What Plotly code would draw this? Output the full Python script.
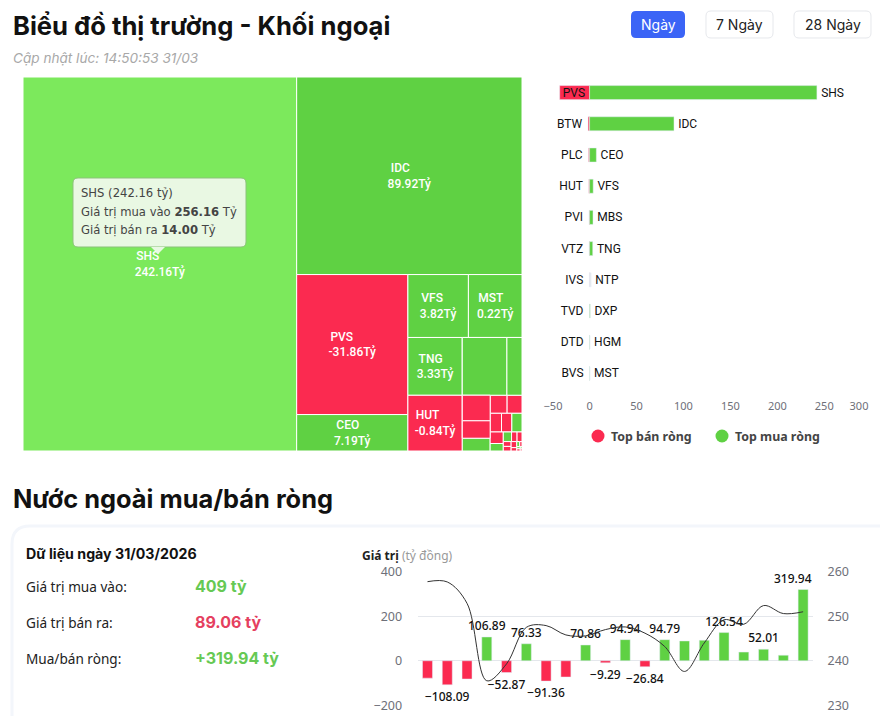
import plotly.graph_objects as go

W, H = 880, 716

# Treemap (khoi ngoai): size = buy + sell, label only on the bigger cells
# "NHOM1"/"NHOM2" only keep their two cells together (MBS+NTP in a row, BTW+PLC in a column)
tm_names = ["SHS", "IDC", "PVS", "CEO", "VFS", "MST", "TNG", "HUT", "NHOM1", "MBS", "NTP",
            "NHOM2", "BTW", "PLC", "DXP", "PVI", "VTZ", "IVS", "TVD", "HGM", "DTD", "BVS",
            "VGS", "TIG", "PLX", "NVB", "C69", "VC3", "HHC", "LAS", "BCC", "MBG",
            "TNG1", "APS", "SD5"]
tm_parents = ["", "", "", "", "", "", "", "", "", "NHOM1", "NHOM1",
              "", "NHOM2", "NHOM2", "", "", "", "", "", "", "", "",
              "", "", "", "", "", "", "", "", "", "",
              "", "", ""]
tm_sizes = [270.16, 117.5, 41.1, 10.7, 10.05, 8.9, 8.3, 8.0, 0, 6.8, 2.3,
            0, 1.88, 1.28, 0.94, 0.81, 0.71, 0.56, 0.51, 0.50, 0.40, 0.26,
            0.21, 0.14, 0.125, 0.10, 0.095, 0.09, 0.05, 0.04, 0.03, 0.02,
            0.02, 0.01, 0.01]
tm_signs = [1, 1, -1, 1, 1, 1, 1, -1, 1, 1, 1,
            -1, -1, -1, 1, -1, -1, -1, -1, 1, -1, 1,
            1, -1, -1, -1, -1, -1, -1, 1, -1, 1,
            -1, 1, -1]
tm_labels = {"SHS": "242.16Tỷ", "IDC": "89.92Tỷ", "PVS": "-31.86Tỷ", "CEO": "7.19Tỷ",
             "VFS": "3.82Tỷ", "MST": "0.22Tỷ", "TNG": "3.33Tỷ", "HUT": "-0.84Tỷ"}
# nbsp after the ticker so both lines start at the same x
tm_pad = {"SHS": 8, "IDC": 6, "PVS": 7, "CEO": 3, "VFS": 4, "MST": 3, "TNG": 3, "HUT": 5}

# Top net sell / net buy bars
sell_names = ["PVS", "BTW", "PLC", "HUT", "PVI", "VTZ", "IVS", "TVD", "DTD", "BVS"]
sell_vals = [-31.86, -1.6, -1.1, -0.84, -0.6, -0.5, -0.3, -0.15, -0.1, -0.05]
buy_names = ["SHS", "IDC", "CEO", "VFS", "MBS", "TNG", "NTP", "DXP", "HGM", "MST"]
buy_vals = [242.16, 89.92, 7.19, 3.82, 3.6, 3.33, 1.6, 0.6, 0.3, 0.22]
rank = list(range(10))
bar_ticks = [-39, 0, 50, 100, 150, 200, 250, 287]
bar_tick_text = ["−50", "0", "50", "100", "150", "200", "250", "300"]

# Nuoc ngoai mua/ban rong
sessions = list(range(1, 21))
net_vals = [-78, -108.09, -82, 106.89, -52.87, 76.33, -91.36, -73, 70.86, -9.29,
            94.94, -26.84, 94.79, 89, 92, 126.54, 39, 52.01, 25, 319.94]
net_labelled = [0, 1, 0, 1, 1, 1, 1, 0, 1, 1, 1, 1, 1, 0, 0, 1, 0, 1, 0, 0]
index_vals = [257.76, 257.7, 252.9, 235.5, 239.3, 247.5, 247.9, 245.8, 245.6, 247,
              247.6, 246.2, 243.2, 237.6, 244, 249.2, 248.2, 252.4, 250.6, 251]

GREEN = "#5fd143"
GREEN_HL = "#7ce95c"
RED = "#fb2a50"


def fx(x):
    return x / W


def fy(y):
    return 1 - y / H


def rounded(x0, y0, x1, y1, r):
    # rounded box in page pixels -> paper coords path
    p = [("M", x0 + r, y0), ("L", x1 - r, y0), ("Q", x1, y0, x1, y0 + r), ("L", x1, y1 - r),
         ("Q", x1, y1, x1 - r, y1), ("L", x0 + r, y1), ("Q", x0, y1, x0, y1 - r),
         ("L", x0, y0 + r), ("Q", x0, y0, x0 + r, y0)]
    out = ""
    for seg in p:
        nums = seg[1:]
        pts = [f"{fx(nums[i]):.5f},{fy(nums[i + 1]):.5f}" for i in range(0, len(nums), 2)]
        out += seg[0] + " ".join(pts) + " "
    return out + "Z"


def label(x, y, text, size=14, color="#111", family="Inter", anchor="left", **kw):
    # annotations carry about 2px of padding on the left
    x = x - 2 if anchor == "left" else x
    fig.add_annotation(x=fx(x), y=fy(y), xref="paper", yref="paper", text=text, showarrow=False,
                       xanchor=anchor, yanchor="middle", align=anchor,
                       font=dict(size=size, color=color, family=family), **kw)


fig = go.Figure()

fig.add_trace(go.Treemap(
    labels=tm_names,
    parents=tm_parents,
    values=tm_sizes,
    text=[f"{n}{chr(160) * tm_pad[n]}<br>{tm_labels[n]}" if n in tm_labels else "" for n in tm_names],
    textinfo="text",
    textposition="middle center",
    textfont=dict(family="Roboto", size=12, color="white", weight=500),
    marker=dict(colors=[GREEN_HL if n == "SHS" else (GREEN if s > 0 else RED)
                        for n, s in zip(tm_names, tm_signs)],
                line=dict(color="white", width=1), pad=dict(t=0, l=0, r=0, b=0)),
    tiling=dict(packing="squarify", squarifyratio=1.28, pad=0),
    pathbar=dict(visible=False),
    sort=False,
    hoverinfo="skip",
    domain=dict(x=[fx(23), fx(522)], y=[fy(451), fy(77)]),
))

fig.add_trace(go.Bar(
    y=rank, x=sell_vals, orientation="h", xaxis="x", yaxis="y", width=0.45,
    text=[sell_names[0]] + [n + "\u00a0" for n in sell_names[1:]],
    marker=dict(color=RED), showlegend=False, cliponaxis=False, hoverinfo="skip",
    textposition=["inside"] + ["outside"] * 9, insidetextanchor="end",
    textfont=dict(family="Roboto", size=12, color="#111"), textangle=0,
))
fig.add_trace(go.Bar(
    y=rank, x=buy_vals, orientation="h", xaxis="x", yaxis="y", width=0.45,
    text=["\u200a" + n for n in buy_names],
    marker=dict(color=[GREEN] * 6 + ["#e6e9ee"] + [GREEN] * 3), showlegend=False,
    cliponaxis=False, hoverinfo="skip", textposition="outside",
    textfont=dict(family="Roboto", size=12, color="#111"), textangle=0,
))

fig.add_trace(go.Bar(
    x=sessions, y=net_vals, xaxis="x2", yaxis="y2", width=0.505, showlegend=False,
    marker=dict(color=[GREEN if v > 0 else RED for v in net_vals]),
    text=[f"{v:.2f}".replace("-", "−") if s else "" for v, s in zip(net_vals, net_labelled)],
    textposition="outside", cliponaxis=False, hoverinfo="skip", textangle=0,
    textfont=dict(family="Noto Sans", size=12, color="#111", weight=500),
))
fig.add_trace(go.Scatter(
    x=sessions, y=index_vals, xaxis="x2", yaxis="y3", mode="lines", showlegend=False,
    line=dict(color="#333", width=1, shape="spline", smoothing=1.0), hoverinfo="skip",
))

tick_font = dict(family="Noto Sans", size=11, color="#6e7079")
fig.update_layout(
    width=W, height=H, margin=dict(l=0, r=0, t=0, b=0, autoexpand=False),
    paper_bgcolor="white", plot_bgcolor="rgba(0,0,0,0)",
    barmode="overlay", uniformtext=dict(minsize=12, mode="show"), showlegend=False,
    xaxis=dict(domain=[fx(553), fx(859)], range=[-39, 287], anchor="y", tickvals=bar_ticks,
               ticktext=bar_tick_text, showgrid=False, zeroline=False, showline=False,
               ticks="outside", ticklen=7, tickcolor="rgba(0,0,0,0)", tickfont=tick_font),
    yaxis=dict(domain=[fy(389), fy(77)], range=[9.5, -0.5], anchor="x", visible=False),
    xaxis2=dict(domain=[fx(417.6), fx(813)], range=[0.5, 20.5], anchor="y2", visible=False),
    yaxis2=dict(domain=[fy(705.3), fy(571.7)], range=[-200, 400], anchor="x2", tickvals=[-200, 0, 200, 400],
                ticktext=["−200", "0", "200", "400"], gridcolor="#e4e7ec", zeroline=False,
                ticks="outside", ticklen=12, tickcolor="rgba(0,0,0,0)",
                tickfont=dict(family="Noto Sans", size=12.5, color="#6e7079")),
    yaxis3=dict(domain=[fy(705.3), fy(571.7)], range=[230, 260], anchor="x2", overlaying="y2", side="right",
                tickvals=[230, 240, 250, 260], showgrid=False, zeroline=False,
                ticks="outside", ticklen=11, tickcolor="rgba(0,0,0,0)",
                tickfont=dict(family="Noto Sans", size=12.5, color="#6e7079")),
)

# last label sits left of its bar in the reference
fig.add_annotation(x=sessions[-1], y=net_vals[-1], xref="x2", yref="y2", text=f"{net_vals[-1]:.2f}",
                   showarrow=False, xshift=-10, yshift=11,
                   font=dict(family="Noto Sans", size=12, color="#111", weight=500))

# card, buttons and tooltip frames
shapes = [
    dict(path=rounded(12, 526, 900, 760, 18), fillcolor="white", line=dict(color="#f3f6fb", width=3), layer="below"),
    dict(path=rounded(631, 11, 685, 38, 5), fillcolor="#3b64f6", line=dict(width=0)),
    dict(path=rounded(706, 11, 773, 38, 5), fillcolor="white", line=dict(color="#e6e8ec", width=1)),
    dict(path=rounded(794, 11, 871, 38, 5), fillcolor="white", line=dict(color="#e6e8ec", width=1)),
    dict(path=rounded(73, 178, 246, 247, 5), fillcolor="#e9f8e3", line=dict(color="#8cc27c", width=1)),
]
tip = [(151, 247), (158, 254), (165, 247)]
shapes.append(dict(path="M" + " L".join(f"{fx(a):.5f},{fy(b):.5f}" for a, b in tip) + " Z",
                   fillcolor="#e9f8e3", line=dict(width=0)))
for s in shapes:
    fig.add_shape(type="path", xref="paper", yref="paper", **s)

# legend dots
for cx, color in [(598, RED), (722, GREEN)]:
    fig.add_shape(type="circle", xref="paper", yref="paper", x0=fx(cx - 6.5), x1=fx(cx + 6.5),
                  y0=fy(436 + 6.5), y1=fy(436 - 6.5), fillcolor=color, line=dict(width=0))

label(13, 26, "<b>Biểu đồ thị trường - Khối ngoại</b>", size=25.6)
label(13, 58, "<i>Cập nhật lúc: 14:50:53 31/03</i>", size=13.6, color="#a8a8a8")
label(658, 25, "Ngày", size=14, color="white", anchor="center")
label(739.5, 25, "7 Ngày", size=14, color="#222", anchor="center")
label(832.5, 25, "28 Ngày", size=14, color="#222", anchor="center")

label(81, 193, "SHS (242.16 tỷ)", size=11.6, color="#444", family="DejaVu Sans")
label(81, 212, "Giá trị mua vào <b>256.16</b> Tỷ", size=11.6, color="#444", family="DejaVu Sans")
label(81, 230, "Giá trị bán ra <b>14.00</b> Tỷ", size=11.6, color="#444", family="DejaVu Sans")

label(611, 436, "<b>Top bán ròng</b>", size=12.4, color="#444", family="Noto Sans")
label(735, 436, "<b>Top mua ròng</b>", size=12.4, color="#444", family="Noto Sans")

label(13, 498, "<b>Nước ngoài mua/bán ròng</b>", size=25.4)
label(26, 553, "<b>Dữ liệu ngày 31/03/2026</b>", size=14.2)
label(26, 586, "Giá trị mua vào:", size=13.6, color="#222", family="Noto Sans")
label(26, 622, "Giá trị bán ra:", size=13.6, color="#222", family="Noto Sans")
label(26, 658, "Mua/bán ròng:", size=13.6, color="#222", family="Noto Sans")
label(195, 586, "<b>409 tỷ</b>", size=16, color="#66c954")
label(195, 622, "<b>89.06 tỷ</b>", size=16, color="#e5405f")
label(195, 658, "<b>+319.94 tỷ</b>", size=16, color="#66c954")
label(362, 555, "<b>Giá trị</b> <span style='color:#999'>(tỷ đồng)</span>", size=12, color="#222", family="Noto Sans")

fig.write_html("out.html", config=dict(displayModeBar=False),
               post_script="document.body.style.margin='0';document.body.style.overflow='hidden';")
